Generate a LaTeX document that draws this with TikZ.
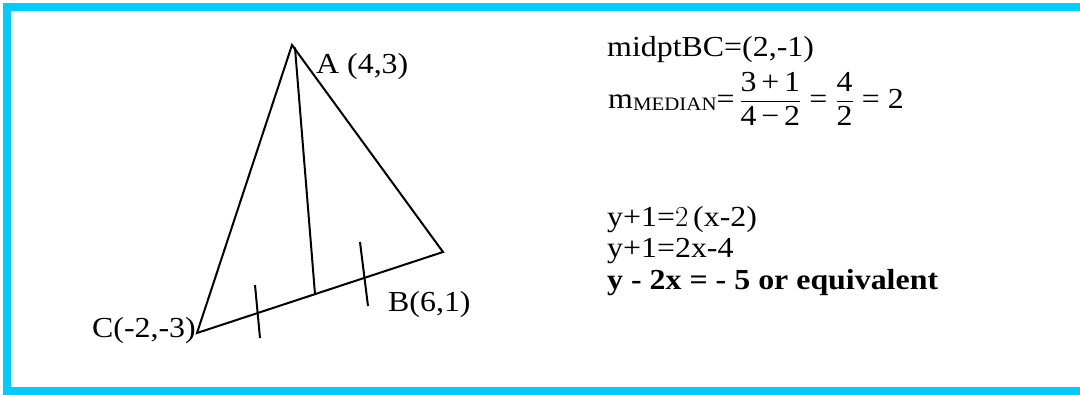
\documentclass[tikz,border=0pt]{standalone}
\usepackage{amsmath}
\usepackage{fontspec}
\setmainfont[FakeStretch=1.1]{Liberation Serif}
\newfontfamily\thinfont{Latin Modern Roman}
\definecolor{framecyan}{RGB}{0,204,255}
\tikzset{
  side/.style={line width=2pt, line cap=round, line join=miter},
  tick/.style={line width=2pt},
  lbl/.style={inner sep=0pt, font=\fontsize{29}{33}\selectfont},
  txt/.style={inner sep=0pt, anchor=base west, font=\fontsize{29}{33}\selectfont},
}
\begin{document}
\begin{tikzpicture}[x=1pt,y=-1pt]
\useasboundingbox (0,0) rectangle (1080,394);
% frame
\draw[framecyan, line width=8pt] (1080,7) -- (7,7) -- (7,391) -- (1080,391);
% triangle
\coordinate (A) at (292,45);
\coordinate (B) at (443,252);
\coordinate (C) at (197,333);
\coordinate (Am) at (295,48);
\coordinate (M) at (315,294);
\coordinate (t1a) at (255,285);
\coordinate (t1b) at (260,338);
\coordinate (t2a) at (360,242);
\coordinate (t2b) at (368,306);
\draw[side] (C) -- (A) -- (B) -- cycle;
\draw[side] (Am) -- (M);
\draw[tick] (t1a) -- (t1b);
\draw[tick] (t2a) -- (t2b);
% vertex labels
\node[lbl, anchor=base west] (la) at (316,73) {A (4,3)};
\node[lbl, anchor=base west] (lb) at (388,311) {B(6,1)};
\node[lbl, anchor=base east] (lc) at (196,337) {C(-2,-3)};
% working
\node[txt] (l1) at (607,56) {midptBC=(2,-1)};
\node[txt] (l2) at (608,108) {m\raisebox{-2pt}{\fontsize{19}{21}\selectfont MEDIAN}=\,$\dfrac{\text{3\,+\,1}}{\text{4\,−\,2}}$\;=\;$\dfrac{\text{4}}{\text{2}}$\;=\;2};
\node[txt] (l3) at (607,226) {y+1={\thinfont 2}\,(x-2)};
\node[txt] (l4) at (607,257) {y+1=2x-4};
\node[txt, font=\fontsize{29}{33}\selectfont\bfseries] (l5) at (607,289) {y - 2x = - 5 or equivalent};
\end{tikzpicture}
\end{document}
